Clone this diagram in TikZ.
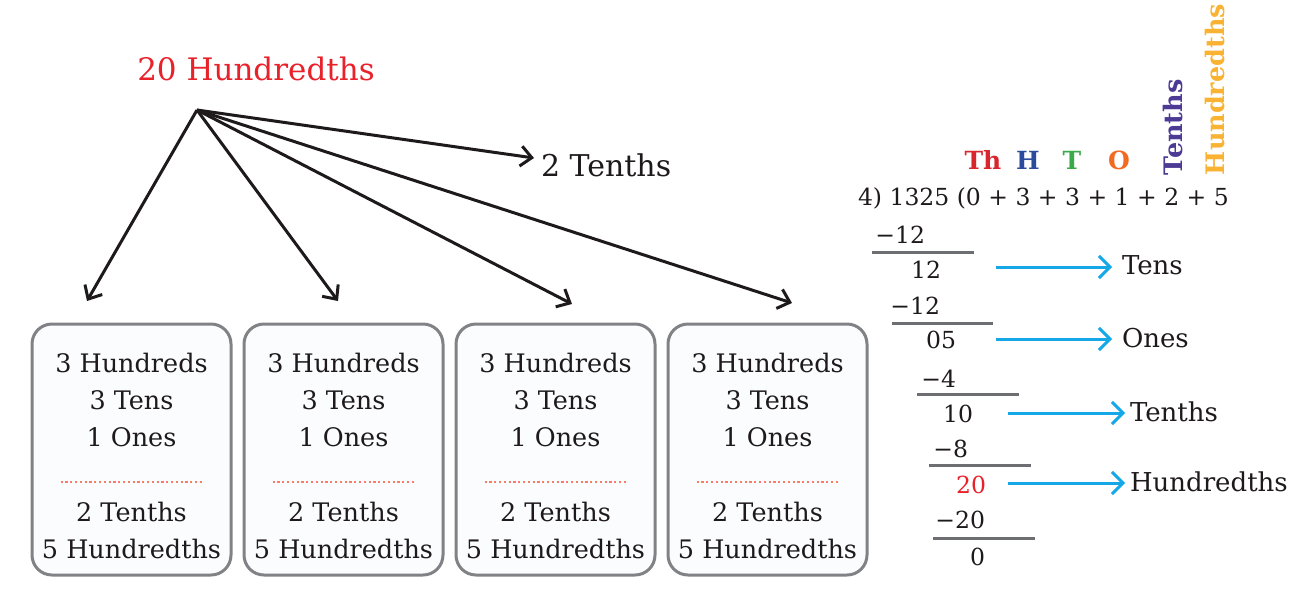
\documentclass[tikz,border=0pt]{standalone}
\usepackage{fontspec}
\setmainfont{DejaVu Serif}
\usetikzlibrary{arrows.meta,calc}
\definecolor{ink}{HTML}{1E1A1B}
\definecolor{redA}{HTML}{E8212B}
\definecolor{thred}{HTML}{D8262E}
\definecolor{hblue}{HTML}{2B4C9C}
\definecolor{tgreen}{HTML}{3BAA48}
\definecolor{oorange}{HTML}{F26A22}
\definecolor{tpurple}{HTML}{4C3A94}
\definecolor{hamber}{HTML}{F9B232}
\definecolor{cyanA}{HTML}{16A8E6}
\definecolor{boxgray}{HTML}{808285}
\definecolor{boxfill}{HTML}{FBFCFE}
\definecolor{dotsalmon}{HTML}{F47E66}
\definecolor{rulegray}{HTML}{6D6E71}
\begin{document}
\begin{tikzpicture}[x=1pt,y=-1pt,
  every node/.style={inner sep=0pt,outer sep=0pt},
  boxnode/.style={draw=boxgray,fill=boxfill,line width=3pt,rounded corners=20pt,minimum width=199pt,minimum height=251pt},
  boxtxt/.style={anchor=base,text=ink,font=\fontsize{25.5}{30}\selectfont},
  rtxt/.style={text=ink,font=\fontsize{23.5}{28}\selectfont},
  lbl/.style={anchor=base west,text=ink,font=\fontsize{26}{30}\selectfont},
  hdr/.style={anchor=base,font=\fontsize{25}{28}\selectfont\bfseries},
  blackarrow/.style={draw=ink,line width=3pt,-{Straight Barb[length=11pt,width=20pt]}},
  cyanarrow/.style={draw=cyanA,line width=3pt,-{Straight Barb[length=11pt,width=22pt]}},
  divrule/.style={draw=rulegray,line width=3pt},
  dotrule/.style={draw=dotsalmon,line width=2.6pt,dash pattern=on 2.2pt off 2.6pt}]
\useasboundingbox (0,0) rectangle (1315,598);

% top label and arrows
\node[anchor=base,text=redA,font=\fontsize{31}{36}\selectfont] (top) at (256,80) {20 Hundredths};
\node[anchor=base west,text=ink,font=\fontsize{30}{36}\selectfont] (twoT) at (541,176) {2 Tenths};
\coordinate (src) at (197,110);
\coordinate (e0) at (87,301);
\coordinate (e1) at (338,301);
\coordinate (e2) at (572,304);
\coordinate (e3) at (792,303);
\coordinate (et) at (534,158);
\draw[blackarrow] (src) -- (et);
\foreach \i in {0,...,3} {\draw[blackarrow] (src) -- (e\i);}

% boxes
\foreach \i in {0,...,3} {
  \pgfmathsetmacro{\cx}{131.5+212*\i}
  \node[boxnode] (b\i) at (\cx,449.5) {};
  \node[boxtxt] (bh\i) at (\cx,372) {3 Hundreds};
  \node[boxtxt] (bt\i) at (\cx,409) {3 Tens};
  \node[boxtxt] (bo\i) at (\cx,446) {1 Ones};
  \draw[dotrule] (\cx-71,482) -- (\cx+71,482);
  \node[boxtxt] (btn\i) at (\cx,521) {2 Tenths};
  \node[boxtxt] (bhd\i) at (\cx,558) {5 Hundredths};
}

% place value headers
\node[hdr,text=thred] (Th) at (983,169) {Th};
\node[hdr,text=hblue] (H) at (1028,169) {H};
\node[hdr,text=tgreen] (T) at (1072,169) {T};
\node[hdr,text=oorange] (O) at (1119,169) {O};
\node[rotate=90,anchor=base west,text=tpurple,font=\fontsize{25.5}{28}\selectfont\bfseries] (vT) at (1182,175) {Tenths};
\node[rotate=90,anchor=base west,text=hamber,font=\fontsize{25.5}{28}\selectfont\bfseries] (vH) at (1224,175) {Hundredths};

% long division
\node[rtxt,anchor=base west] (div) at (858,205) {4) 1325 (0 + 3 + 3 + 1 + 2 + 5};
\node[rtxt,anchor=base east] (s1) at (925,243) {−12};
\draw[divrule] (872,252) -- (974,252);
\node[rtxt,anchor=base east] (r1) at (941,278) {12};
\node[rtxt,anchor=base east] (s2) at (940,314) {−12};
\draw[divrule] (892,323) -- (993,323);
\node[rtxt,anchor=base east] (r2) at (956,348) {05};
\node[rtxt,anchor=base east] (s3) at (956,387) {−4};
\draw[divrule] (917,394) -- (1019,394);
\node[rtxt,anchor=base east] (r3) at (973,422) {10};
\node[rtxt,anchor=base east] (s4) at (968,457) {−8};
\draw[divrule] (929,465) -- (1031,465);
\node[rtxt,anchor=base east,text=redA] (r4) at (986,493) {20};
\node[rtxt,anchor=base east] (s5) at (985,528) {−20};
\draw[divrule] (933,538) -- (1035,538);
\node[rtxt,anchor=base east] (r5) at (985,565) {0};

% labels and cyan arrows
\node[lbl] (lTens) at (1122,274) {Tens};
\node[lbl] (lOnes) at (1122,347) {Ones};
\node[lbl] (lTenths) at (1130,421) {Tenths};
\node[lbl] (lHund) at (1130,491) {Hundredths};
\coordinate (c1) at (996,267);
\coordinate (c2) at (996,339);
\coordinate (c3) at (1008,413);
\coordinate (c4) at (1008,483);
\draw[cyanarrow,shorten >=10pt] (c1) -- (c1 -| lTens.west);
\draw[cyanarrow,shorten >=10pt] (c2) -- (c2 -| lOnes.west);
\draw[cyanarrow,shorten >=5pt] (c3) -- (c3 -| lTenths.west);
\draw[cyanarrow,shorten >=5pt] (c4) -- (c4 -| lHund.west);
\end{tikzpicture}
\end{document}
